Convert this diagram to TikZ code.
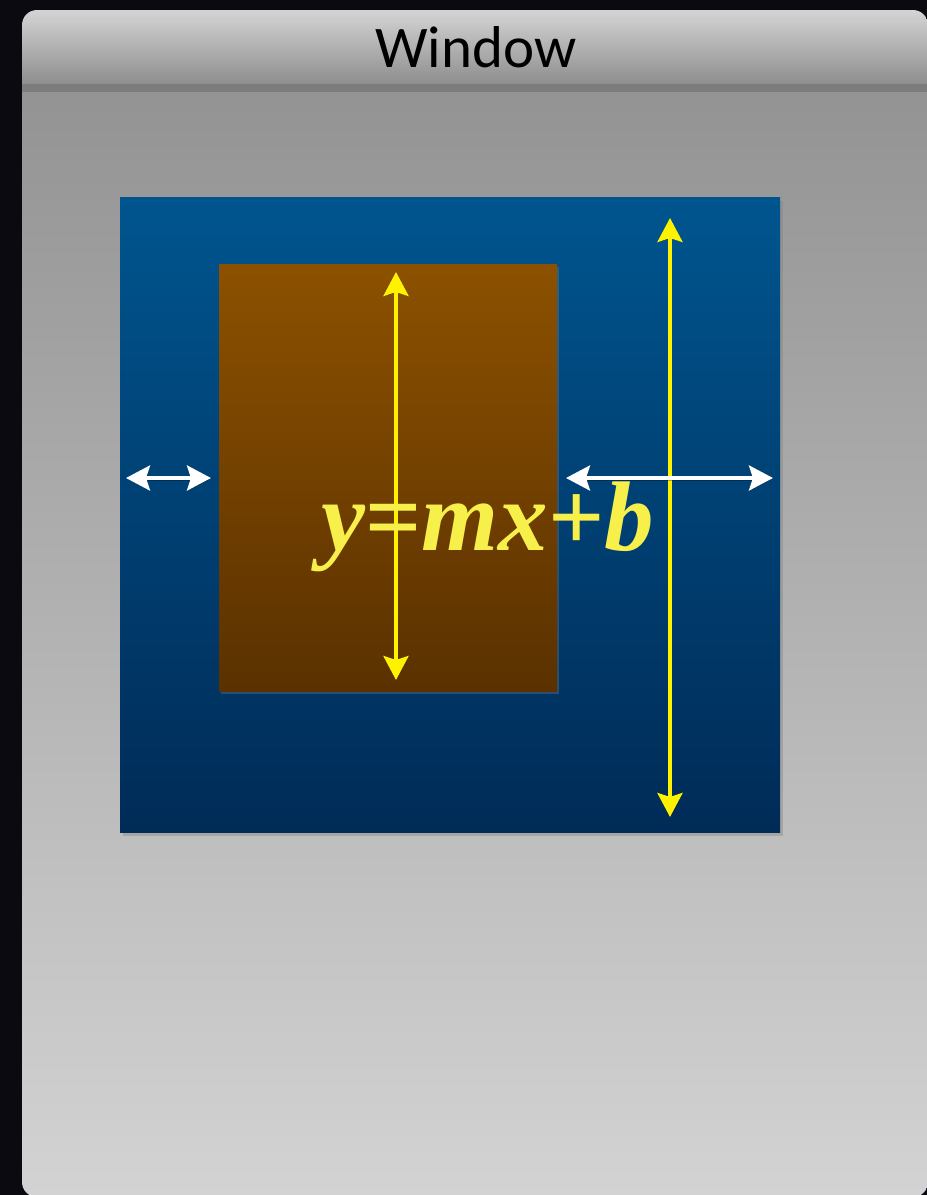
\documentclass[tikz,border=0pt]{standalone}
\usepackage{fontspec}
\setmainfont{Carlito}
\newfontfamily\eqfont{Liberation Serif}
\usepackage{tikz}
\usetikzlibrary{positioning,arrows.meta,shadows}

\definecolor{deskbg}{HTML}{0A0A10}
\definecolor{bartop}{HTML}{D4D4D4}
\definecolor{barbot}{HTML}{8E8E8E}
\definecolor{barline}{HTML}{7C7C7C}
\definecolor{bodytop}{HTML}{939393}
\definecolor{bodybot}{HTML}{D3D3D3}
\definecolor{bluetop}{HTML}{00558F}
\definecolor{bluebot}{HTML}{002B57}
\definecolor{brtop}{HTML}{8C5100}
\definecolor{brbot}{HTML}{5A3100}
\definecolor{eqyellow}{HTML}{F8F04A}

\begin{document}
\begin{tikzpicture}[x=1pt, y=-1pt,
  panel/.style={inner sep=0, outer sep=0, minimum width=#1},
  outerpanel/.style={panel=660pt, minimum height=635pt, top color=bluetop, bottom color=bluebot,
    drop shadow={shadow xshift=3pt, shadow yshift=-4pt, opacity=0.4}},
  innerpanel/.style={panel=338pt, minimum height=427pt, top color=brtop, bottom color=brbot,
    drop shadow={shadow xshift=2pt, shadow yshift=-3pt, opacity=0.35}},
  yarr/.style={{Stealth[length=24pt, width=25pt, inset=4pt]}-{Stealth[length=24pt, width=25pt, inset=4pt]},
    line width=4pt, draw=yellow,
    preaction={draw=black, opacity=0.3, transform canvas={xshift=1pt, yshift=-2pt}}},
  warr/.style={yarr, draw=white},
]
\useasboundingbox (0,0) rectangle (927,1195);
\fill[deskbg] (0,0) rectangle (927,1195);

% window
\begin{scope}
  \clip[rounded corners=15pt] (22,10) rectangle (928,1197);
  \shade[top color=bodytop, bottom color=bodybot] (22,88) rectangle (928,1197);
  \shade[top color=bartop, bottom color=barbot] (22,10) rectangle (928,84);
  \fill[barline] (22,84) rectangle (928,92);
\end{scope}
\node[font=\fontsize{59}{59}\selectfont, anchor=base] (title) at (476,67) {Window};

% panels
\node[outerpanel] (outer) at (450,514.5) {};
\node[innerpanel] (inner) at (388,477.5) {};

\coordinate (itop) at (396,272);
\coordinate (ibot) at (396,680);
\coordinate (otop) at (670,218);
\coordinate (obot) at (670,817);
\coordinate (lleft) at (126,478);
\coordinate (lright) at (211,478);
\coordinate (rleft) at (566,478);
\coordinate (rright) at (773,478);

\draw[yarr] (itop) -- (ibot);
\draw[yarr] (otop) -- (obot);
\draw[warr] (lleft) -- (lright);
\draw[warr] (rleft) -- (rright);

% equation
\node[anchor=base, text=eqyellow, font=\eqfont\bfseries\fontsize{99}{99}\selectfont] (eq) at (488,550)
  {\itshape y\upshape=\itshape mx\upshape+\itshape b};
\end{tikzpicture}
\end{document}
